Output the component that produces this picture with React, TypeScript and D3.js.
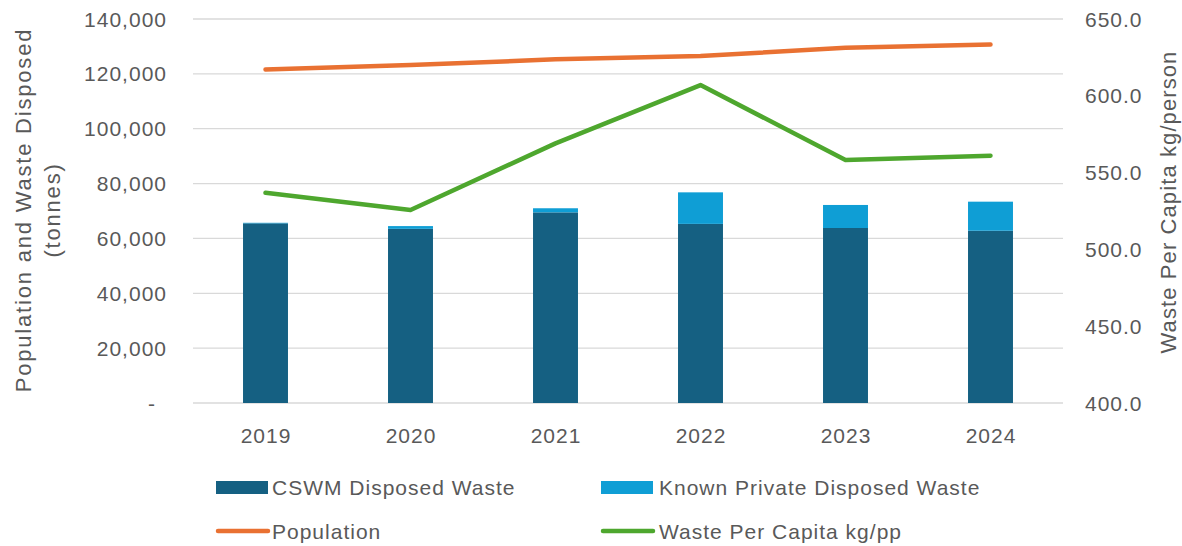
import React from "react";
import * as d3 from "d3";

const years = ["2019", "2020", "2021", "2022", "2023", "2024"];
const cswm = [65500, 63500, 69500, 65300, 63800, 62800];
const privateWaste = [200, 1000, 1500, 11500, 8400, 10600];
const population = [121600, 123200, 125300, 126500, 129500, 130700];
const perCapita = [536.9, 525.7, 569.0, 607.0, 558.2, 561.0];
const leftTicks = [0, 20000, 40000, 60000, 80000, 100000, 120000, 140000];
const rightTicks = [400, 450, 500, 550, 600, 650];

const W = 1182, H = 546;
const margin = { left: 193, right: 1063, top: 19, bottom: 403 };
const FONT = "'Liberation Sans', Arial, sans-serif";
const TXT = "#595959";
const C_DARK = "#156082", C_LIGHT = "#0F9ED5", C_ORANGE = "#E97132", C_GREEN = "#4EA72E";
const FS = 21;
const LS = 1;

export default function App() {
  const x = d3.scaleBand().domain(years).range([margin.left, margin.right]).paddingInner(0.69).paddingOuter(0.345);
  const yL = d3.scaleLinear().domain([0, 140000]).range([margin.bottom, margin.top]);
  const yR = d3.scaleLinear().domain([400, 650]).range([margin.bottom, margin.top]);
  const cx = (y: string) => (x(y) as number) + x.bandwidth() / 2;
  const popLine = d3.line<number>().x((_, i) => cx(years[i])).y((d) => yL(d));
  const pcLine = d3.line<number>().x((_, i) => cx(years[i])).y((d) => yR(d));
  const fmt = (v: number) => (v === 0 ? "-" : d3.format(",")(v));

  return (
    <svg width={W} height={H} style={{ position: "absolute", left: 0, top: 0 }} fontFamily={FONT}>
      <rect width={W} height={H} fill="#fff" />
      {leftTicks.map((t) => (
        <line key={t} x1={margin.left} x2={margin.right} y1={yL(t)} y2={yL(t)} stroke="#D9D9D9" strokeWidth={1.3} />
      ))}
      {leftTicks.map((t) => (
        <text key={"l" + t} x={t === 0 ? 156 : 167} y={yL(t)} dy="0.36em" textAnchor="end" fontSize={FS} letterSpacing={LS} fill={TXT}>
          {fmt(t)}
        </text>
      ))}
      {rightTicks.map((t) => (
        <text key={"r" + t} x={1085} y={yR(t)} dy="0.36em" textAnchor="start" fontSize={FS} letterSpacing={LS} fill={TXT}>
          {t.toFixed(1)}
        </text>
      ))}
      {years.map((y) => (
        <text key={"x" + y} x={cx(y) + 0.5} y={435} dy="0.36em" textAnchor="middle" fontSize={FS} letterSpacing={LS} fill={TXT}>
          {y}
        </text>
      ))}
      <text transform="translate(31,210) rotate(-90)" textAnchor="middle" fontSize={22} letterSpacing={1.8} fill={TXT}>
        Population and Waste Disposed
      </text>
      <text transform="translate(60,210) rotate(-90)" textAnchor="middle" fontSize={22} letterSpacing={1.8} fill={TXT}>
        (tonnes)
      </text>
      <text transform="translate(1176,202) rotate(-90)" textAnchor="middle" fontSize={22} letterSpacing={1.1} fill={TXT}>
        Waste Per Capita kg/person
      </text>
      {years.map((y, i) => (
        <g key={"b" + y}>
          <rect x={x(y)} width={x.bandwidth()} y={yL(cswm[i])} height={yL(0) - yL(cswm[i])} fill={C_DARK} />
          <rect x={x(y)} width={x.bandwidth()} y={yL(cswm[i] + privateWaste[i])} height={yL(cswm[i]) - yL(cswm[i] + privateWaste[i])} fill={C_LIGHT} />
        </g>
      ))}
      <path d={popLine(population) || ""} fill="none" stroke={C_ORANGE} strokeWidth={4.5} strokeLinecap="round" strokeLinejoin="round" />
      <path d={pcLine(perCapita) || ""} fill="none" stroke={C_GREEN} strokeWidth={4.5} strokeLinecap="round" strokeLinejoin="round" />
      {/* legend */}
      <rect x={216} y={481} width={52} height={13} fill={C_DARK} />
      <text x={272} y={487} dy="0.36em" fontSize={FS} letterSpacing={LS} fill={TXT}>CSWM Disposed Waste</text>
      <rect x={601} y={481} width={52} height={13} fill={C_LIGHT} />
      <text x={659} y={487} dy="0.36em" fontSize={FS} letterSpacing={LS} fill={TXT}>Known Private Disposed Waste</text>
      <line x1={218} x2={268} y1={531} y2={531} stroke={C_ORANGE} strokeWidth={4.5} strokeLinecap="round" />
      <text x={272} y={531} dy="0.36em" fontSize={FS} letterSpacing={LS} fill={TXT}>Population</text>
      <line x1={603} x2={653} y1={531} y2={531} stroke={C_GREEN} strokeWidth={4.5} strokeLinecap="round" />
      <text x={659} y={531} dy="0.36em" fontSize={FS} letterSpacing={LS} fill={TXT}>Waste Per Capita kg/pp</text>
    </svg>
  );
}
